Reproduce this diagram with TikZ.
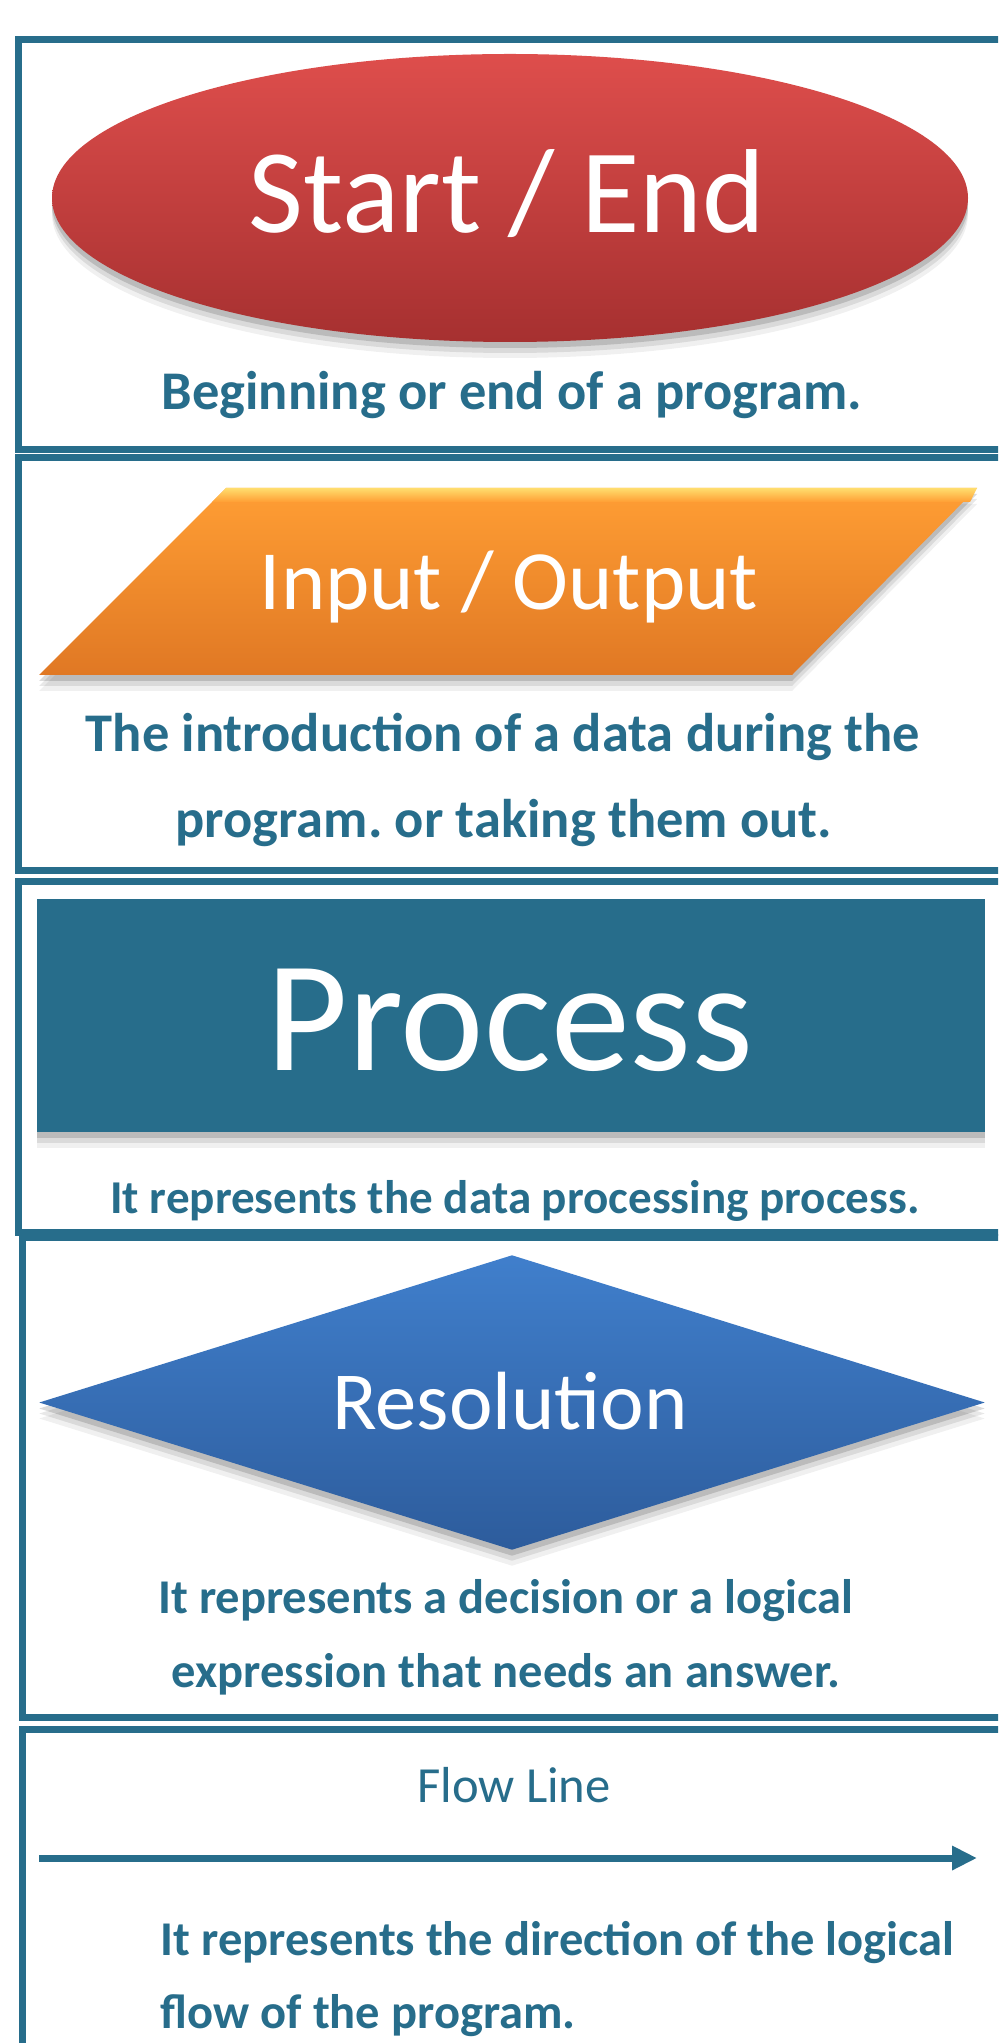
\documentclass[tikz,border=0pt]{standalone}
\usepackage{fontspec}
\setmainfont{Carlito}
\usetikzlibrary{shapes.geometric,shadows,arrows.meta}
\definecolor{flowteal}{RGB}{39,109,139}
\definecolor{redtop}{RGB}{222,78,76}
\definecolor{redbot}{RGB}{166,48,48}
\definecolor{orangetop}{RGB}{255,158,52}
\definecolor{orangebot}{RGB}{224,120,36}
\definecolor{orangehi}{RGB}{255,222,110}
\definecolor{bluetop}{RGB}{64,127,204}
\definecolor{bluebot}{RGB}{45,92,156}
\tikzset{
  boxframe/.style={draw=flowteal, line width=0.7mm},
  desc/.style={text=flowteal, anchor=base, inner sep=0, font=\bfseries\fontsize{15.5}{18}\selectfont},
  smalldesc/.style={desc, font=\bfseries\fontsize{13.8}{16}\selectfont},
  shapetext/.style={text=white, anchor=base, inner sep=0},
  softshadow/.style={
    drop shadow={shadow xshift=0mm, shadow yshift=-1.6mm, opacity=0.06, fill=black},
    drop shadow={shadow xshift=0mm, shadow yshift=-1.1mm, opacity=0.09, fill=black},
    drop shadow={shadow xshift=0mm, shadow yshift=-0.6mm, opacity=0.14, fill=black}},
}
\begin{document}
\frenchspacing
\begin{tikzpicture}[x=0.1mm,y=-0.1mm]
\useasboundingbox (0,0) rectangle (998,2043);
\fill[white] (0,0) rectangle (998,2043);
\clip (0,0) rectangle (998,2043);
% frames
\draw[boxframe] (18,40) rectangle (1030,450);
\draw[boxframe] (18,458) rectangle (1030,870);
\draw[boxframe] (18,881) rectangle (1030,1232);
\draw[boxframe] (22,1237) rectangle (1030,1717);
\draw[boxframe] (22,1729) rectangle (1030,2090);
% start / end
\node[ellipse, minimum width=91.6mm, minimum height=28.8mm, inner sep=0, top color=redtop, bottom color=redbot, softshadow] (startend) at (510,198) {};
\node[shapetext, font=\fontsize{34}{40}\selectfont] (startlbl) at (507,233) {Start / End};
\node[desc] (startdesc) at (512,410) {Beginning or end of a program.};
% input / output
\shade[top color=orangetop, bottom color=orangebot, softshadow] (226,488) -- (977,488) -- (792,675) -- (39,675) -- cycle;
\shade[top color=orangehi, bottom color=orangetop] (226,488) -- (977,488) -- (970,502) -- (212,502) -- cycle;
\node[shapetext, font=\fontsize{24}{28}\selectfont] (iolbl) at (509,610) {Input / Output};
\node[desc] (iodesca) at (503,752) {The introduction of a data during the};
\node[desc] (iodescb) at (504,837) {program. or taking them out.};
% process
\node[rectangle, minimum width=94.8mm, minimum height=23.3mm, inner sep=0, fill=flowteal, softshadow] (procbox) at (511,1015.5) {};
\node[shapetext, font=\fontsize{45}{50}\selectfont] (proclbl) at (510,1070) {Process};
\node[desc, font=\bfseries\fontsize{13.4}{16}\selectfont] (procdesc) at (515,1213) {It represents the data processing process.};
% resolution
\node[diamond, minimum width=94.6mm, minimum height=29.5mm, inner sep=0, top color=bluetop, bottom color=bluebot, softshadow] (resbox) at (512,1402.5) {};
\node[shapetext, font=\fontsize{23.5}{28}\selectfont] (reslbl) at (510,1429) {Resolution};
\node[smalldesc] (resdesca) at (506,1613) {It represents a decision or a logical};
\node[smalldesc] (resdescb) at (506,1687) {expression that needs an answer.};
% flow line
\node[text=flowteal, anchor=base, inner sep=0, font=\fontsize{14.4}{17}\selectfont] (flowlbl) at (514,1802) {Flow Line};
\coordinate (flowa) at (39,1858);
\coordinate (flowb) at (977,1858);
\draw[flowteal, line width=0.7mm, -{Triangle[length=2.5mm,width=2.3mm]}] (flowa) -- (flowb);
\node[smalldesc, anchor=base west] (flowdesca) at (160,1955) {It represents the direction of the logical};
\node[smalldesc, anchor=base west] (flowdescb) at (160,2028) {flow of the program.};
\end{tikzpicture}
\end{document}
